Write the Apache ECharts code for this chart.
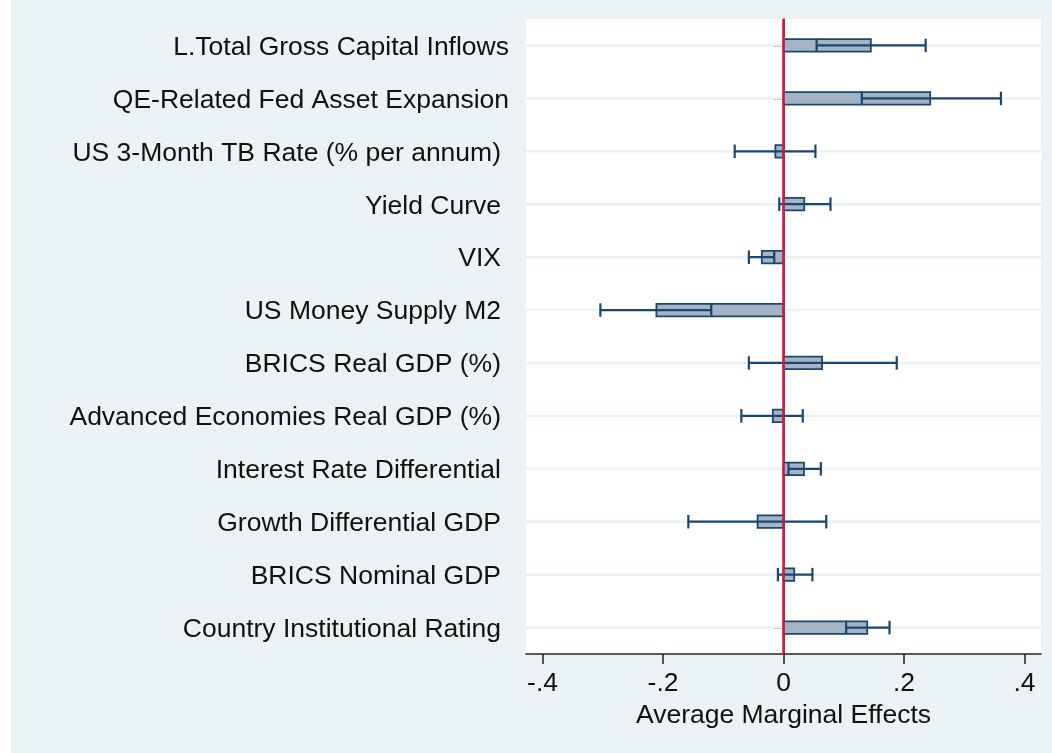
<!DOCTYPE html>
<html>
<head>
<meta charset="utf-8">
<script src="https://cdn.jsdelivr.net/npm/echarts@6/dist/echarts.min.js"></script>
<style>
html,body{margin:0;padding:0;background:#ffffff;}
#chart{position:absolute;left:11px;top:0;width:1041px;height:753px;}
</style>
</head>
<body>
<div id="chart"></div>
<script>
const categories = [
  'L.Total Gross Capital Inflows',
  'QE-Related Fed Asset Expansion',
  'US 3-Month TB Rate (% per annum)',
  'Yield Curve',
  'VIX',
  'US Money Supply M2',
  'BRICS Real GDP (%)',
  'Advanced Economies Real GDP (%)',
  'Interest Rate Differential',
  'Growth Differential GDP',
  'BRICS Nominal GDP',
  'Country Institutional Rating'
];
const estimates = [0.145, 0.2435, -0.0135, 0.0345, -0.036, -0.211, 0.064, -0.0177, 0.034, -0.043, 0.0178, 0.139];
const ciLower   = [0.055, 0.130, -0.081, -0.007, -0.0575, -0.304, -0.0575, -0.070, 0.0083, -0.158, -0.0093, 0.104];
const ciUpper   = [0.236, 0.361, 0.053, 0.078, -0.0154, -0.120, 0.188, 0.032, 0.062, 0.071, 0.048, 0.176];
const xTickValues = [-0.4, -0.2, 0, 0.2, 0.4];
const xTickLabels = ['-.4', '-.2', '0', '.2', '.4'];
const refLineValue = [0];

const NAVY = '#1a476f';
const FONT = '"Liberation Sans", Arial, sans-serif';
const FS = 26.5;

const rows = categories.map((c, i) => [i, estimates[i], ciLower[i], ciUpper[i]]);

const chart = echarts.init(document.getElementById('chart'), null, {renderer: 'canvas'});
chart.setOption({
  backgroundColor: '#eaf2f3',
  animation: false,
  grid: {left: 515, right: 11, top: 19, bottom: 99, show: true, backgroundColor: '#ffffff', borderWidth: 0, containLabel: false},
  xAxis: {
    type: 'value',
    min: -0.4275,
    max: 0.4275,
    axisLine: {show: true, onZero: false, lineStyle: {color: '#222', width: 1.5}},
    axisTick: {show: true, length: 10, customValues: xTickValues, lineStyle: {color: '#222', width: 1.5}},
    axisLabel: {
      customValues: xTickValues,
      formatter: v => { const k = xTickValues.findIndex(t => Math.abs(t - v) < 1e-9); return k >= 0 ? xTickLabels[k] : ''; },
      fontFamily: FONT, fontSize: FS, color: '#111', margin: 16
    },
    splitLine: {show: false},
    name: 'Average Marginal Effects',
    nameLocation: 'middle',
    nameGap: 47,
    nameTextStyle: {fontFamily: FONT, fontSize: FS, color: '#111'}
  },
  yAxis: {
    type: 'category',
    inverse: true,
    data: categories,
    boundaryGap: true,
    axisLine: {show: true, lineStyle: {color: '#222', width: 1.5}},
    axisTick: {show: true, alignWithLabel: true, length: 10, lineStyle: {color: '#222', width: 1.5}},
    axisLabel: {
      margin: 17, interval: 0,
      formatter: (v, i) => (i < 2 ? '{w|' : '{n|') + v + '}',
      rich: {
        w: {fontFamily: FONT, fontSize: FS, color: '#111', padding: [4, 0, 0, 0]},
        n: {fontFamily: FONT, fontSize: FS, color: '#111', padding: [4, 8, 0, 0]}
      }
    },
    splitLine: {show: false}
  },
  series: [
    {
      type: 'custom',
      name: 'grid',
      z: 1,
      silent: true,
      data: rows,
      encode: {x: 1, y: 0},
      renderItem: (params, api) => {
        const cs = params.coordSys;
        const y = api.coord([0, api.value(0)])[1];
        return {type: 'line', shape: {x1: cs.x, y1: y, x2: cs.x + cs.width, y2: y},
          style: {stroke: '#eaf2f3', lineWidth: 2.5}};
      }
    },
    {
      type: 'custom',
      name: 'coef',
      z: 3,
      data: rows,
      encode: {x: [1, 2, 3], y: 0},
      renderItem: (params, api) => {
        const idx = api.value(0);
        const p0 = api.coord([0, idx]);
        const pe = api.coord([api.value(1), idx]);
        const pl = api.coord([api.value(2), idx]);
        const ph = api.coord([api.value(3), idx]);
        const y = p0[1];
        const h = 12.5;
        const capH = 13.5;
        const x1 = Math.min(p0[0], pe[0]);
        const w = Math.abs(pe[0] - p0[0]);
        return {
          type: 'group',
          children: [
            {type: 'rect', shape: {x: x1, y: y - h / 2, width: w, height: h},
              style: {fill: '#a4b4c4', stroke: NAVY, lineWidth: 1.8}},
            {type: 'line', shape: {x1: pl[0], y1: y, x2: ph[0], y2: y},
              style: {stroke: NAVY, lineWidth: 2.2}},
            {type: 'line', shape: {x1: pl[0], y1: y - capH / 2, x2: pl[0], y2: y + capH / 2},
              style: {stroke: NAVY, lineWidth: 2.2}},
            {type: 'line', shape: {x1: ph[0], y1: y - capH / 2, x2: ph[0], y2: y + capH / 2},
              style: {stroke: NAVY, lineWidth: 2.2}}
          ]
        };
      }
    },
    {
      type: 'custom',
      name: 'ref',
      z: 5,
      silent: true,
      data: refLineValue.map(v => [v, 0]),
      encode: {x: 0, y: 1},
      renderItem: (params, api) => {
        const cs = params.coordSys;
        const x = api.coord([api.value(0), 0])[0];
        return {type: 'line', shape: {x1: x, y1: cs.y, x2: x, y2: cs.y + cs.height},
          style: {stroke: '#d11a3f', lineWidth: 2.5}};
      }
    }
  ]
});
</script>
</body>
</html>
